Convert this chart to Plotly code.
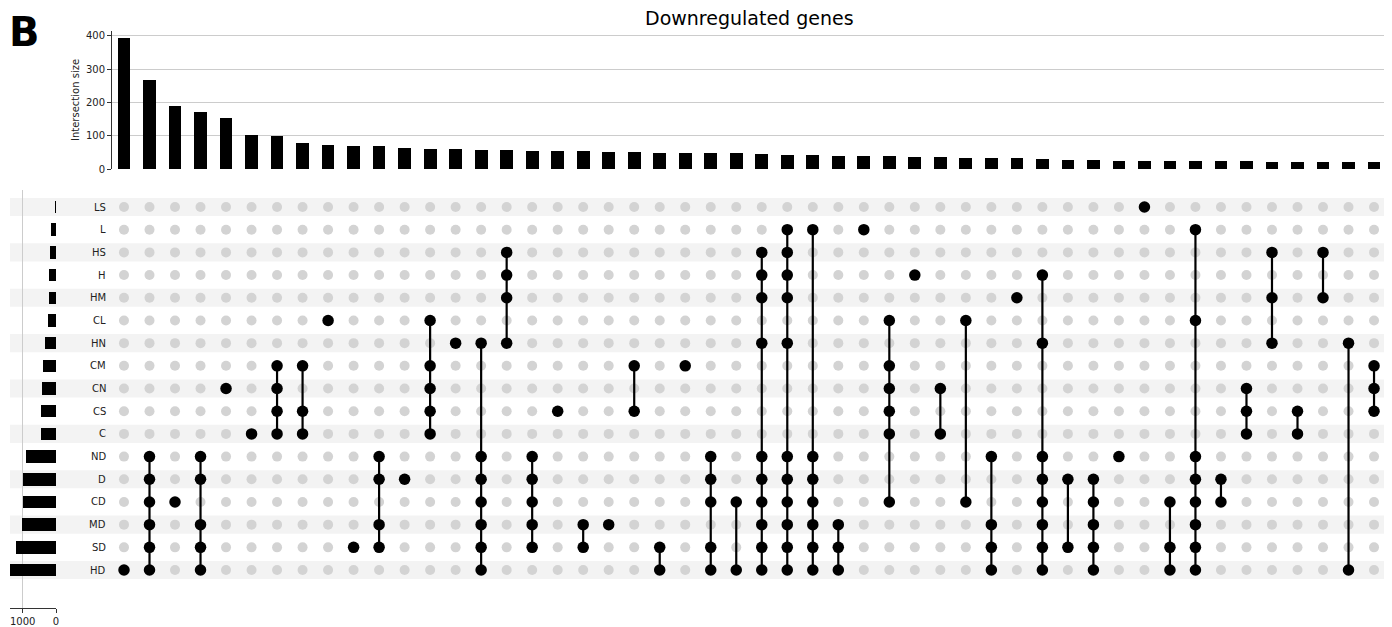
import plotly.graph_objects as go

# ---------------- data ----------------
sets = ["LS", "L", "HS", "H", "HM", "CL", "HN", "CM", "CN", "CS", "C",
        "ND", "D", "CD", "MD", "SD", "HD"]
set_sizes = [28, 147, 186, 216, 225, 230, 343, 392, 431, 451, 455,
             911, 980, 982, 1010, 1186, 1372]

intersection_members = [
    ["HD"],
    ["ND", "D", "CD", "MD", "SD", "HD"],
    ["CD"],
    ["ND", "D", "MD", "SD", "HD"],
    ["CN"],
    ["C"],
    ["CM", "CN", "CS", "C"],
    ["CM", "CS", "C"],
    ["CL"],
    ["SD"],
    ["ND", "D", "MD", "SD"],
    ["D"],
    ["CL", "CM", "CN", "CS", "C"],
    ["HN"],
    ["HN", "ND", "D", "CD", "MD", "SD", "HD"],
    ["HS", "H", "HM", "HN"],
    ["ND", "D", "CD", "MD", "SD"],
    ["CS"],
    ["MD", "SD"],
    ["MD"],
    ["CM", "CS"],
    ["SD", "HD"],
    ["CM"],
    ["ND", "D", "CD", "SD", "HD"],
    ["CD", "HD"],
    ["HS", "H", "HM", "HN", "ND", "D", "CD", "MD", "SD", "HD"],
    ["L", "HS", "H", "HM", "HN", "ND", "D", "CD", "MD", "SD", "HD"],
    ["L", "ND", "D", "CD", "MD", "SD", "HD"],
    ["MD", "SD", "HD"],
    ["L"],
    ["CL", "CM", "CN", "CS", "C", "CD"],
    ["H"],
    ["CN", "C"],
    ["CL", "CD"],
    ["ND", "MD", "SD", "HD"],
    ["HM"],
    ["H", "HN", "ND", "D", "CD", "MD", "SD", "HD"],
    ["D", "SD"],
    ["D", "CD", "MD", "SD", "HD"],
    ["ND"],
    ["LS"],
    ["CD", "SD", "HD"],
    ["L", "CL", "ND", "D", "CD", "MD", "SD", "HD"],
    ["D", "CD"],
    ["CN", "CS", "C"],
    ["HS", "HM", "HN"],
    ["CS", "C"],
    ["HS", "HM"],
    ["HN", "HD"],
    ["CM", "CN", "CS"],
]
intersection_sizes = [395, 269, 188, 171, 152, 102, 99, 78, 72, 70, 68, 62, 61, 61,
                      57, 56, 55, 54, 54, 52, 51, 49, 49, 49, 47, 45, 43, 41, 40, 40, 38, 36,
                      35, 34, 34, 34, 30, 28, 26, 25, 25, 25, 25, 24, 23, 22, 22, 22, 22, 22]

title_text = "Downregulated genes"
panel_label = "B"

# ---------------- geometry helpers ----------------
OFF = 8                      # page body margin of the html
W, H = 1392 - OFF, 627 - OFF
def px_x(p): return (p - OFF) / W
def px_y(p): return 1 - (p - OFF) / H

FONT = "DejaVu Sans"
n_cols = len(intersection_sizes)
cols = list(range(n_cols))
row_index = {s: i for i, s in enumerate(sets)}

fig = go.Figure()

# top bar chart
fig.add_trace(go.Bar(x=cols, y=intersection_sizes, width=0.5,
                     marker=dict(color="black", line=dict(width=0)),
                     xaxis="x", yaxis="y", showlegend=False, hoverinfo="x+y"))

# matrix: gray background dots
gx, gy = [], []
for c in cols:
    for r in range(len(sets)):
        gx.append(c); gy.append(r)
fig.add_trace(go.Scatter(x=gx, y=gy, mode="markers",
                         marker=dict(color="#d3d3d3", size=10),
                         xaxis="x2", yaxis="y2", showlegend=False, hoverinfo="skip"))

# connecting lines
lx, ly = [], []
for c, mem in enumerate(intersection_members):
    rows = [row_index[m] for m in mem]
    if len(rows) > 1:
        lx += [c, c, None]
        ly += [min(rows), max(rows), None]
fig.add_trace(go.Scatter(x=lx, y=ly, mode="lines",
                         line=dict(color="black", width=2.2),
                         xaxis="x2", yaxis="y2", showlegend=False, hoverinfo="skip"))

# black dots
bx, by = [], []
for c, mem in enumerate(intersection_members):
    for m in mem:
        bx.append(c); by.append(row_index[m])
fig.add_trace(go.Scatter(x=bx, y=by, mode="markers",
                         marker=dict(color="black", size=11.5),
                         xaxis="x2", yaxis="y2", showlegend=False, hoverinfo="skip"))

# set size bars
fig.add_trace(go.Bar(x=set_sizes, y=list(range(len(sets))), orientation="h", width=0.55,
                     marker=dict(color="black", line=dict(width=0)),
                     xaxis="x3", yaxis="y3", showlegend=False, hoverinfo="x"))

# stripes
shapes = []
for r in range(0, len(sets), 2):
    shapes.append(dict(type="rect", xref="paper", yref="y2",
                       x0=px_x(10), x1=px_x(1385), y0=r - 0.4, y1=r + 0.4,
                       fillcolor="#f3f3f3", line=dict(width=0), layer="below"))

annotations = []
for r, s in enumerate(sets):
    annotations.append(dict(text=s, xref="paper", yref="y2", x=px_x(108), y=r,
                            xanchor="right", yanchor="middle", showarrow=False,
                            font=dict(family=FONT, size=10, color="#222")))
annotations.append(dict(text="Intersection size", xref="paper", yref="paper",
                        x=px_x(75), y=px_y(100), textangle=-90, showarrow=False,
                        xanchor="center", yanchor="middle",
                        font=dict(family=FONT, size=10, color="#222")))
annotations.append(dict(text=title_text, xref="paper", yref="paper",
                        x=px_x(749), y=px_y(18), showarrow=False,
                        xanchor="center", yanchor="middle",
                        font=dict(family=FONT, size=19, color="black")))
annotations.append(dict(text="<b>" + panel_label + "</b>", xref="paper", yref="paper",
                        x=0.0, y=1.0, showarrow=False, borderpad=0,
                        xanchor="left", yanchor="top",
                        font=dict(family=FONT, size=40, color="black")))

xr = [-0.47, 49.43]
yr_m = [17.673, -0.749]

common_off = dict(automargin=False)

fig.update_layout(
    width=W, height=H, autosize=False,
    margin=dict(l=0, r=0, t=0, b=0, pad=0),
    paper_bgcolor="white", plot_bgcolor="rgba(0,0,0,0)",
    font=dict(family=FONT, size=10, color="#222"),
    bargap=0,
    shapes=shapes, annotations=annotations,
    xaxis=dict(domain=[px_x(112), px_x(1385)], range=xr, anchor="y",
               showticklabels=False, ticks="", showgrid=False, zeroline=False,
               showline=False, **common_off),
    yaxis=dict(domain=[px_y(169), px_y(31)], range=[0, 415], anchor="x",
               tickvals=[0, 100, 200, 300, 400], ticks="outside", ticklen=4,
               tickcolor="#333", showline=True, linecolor="#333", linewidth=1,
               showgrid=True, gridcolor="#cccccc", gridwidth=1, zeroline=False,
               tickfont=dict(family=FONT, size=10, color="#222"), **common_off),
    xaxis2=dict(domain=[px_x(112), px_x(1385)], range=xr, anchor="y2",
                showticklabels=False, ticks="", showgrid=False, zeroline=False,
                showline=False, **common_off),
    yaxis2=dict(domain=[px_y(608), px_y(190)], range=yr_m, anchor="x2",
                showticklabels=False, ticks="", showgrid=False, zeroline=False,
                showline=False, **common_off),
    xaxis3=dict(domain=[px_x(10), px_x(56)], range=[1380, 0], anchor="y3",
                tickvals=[0, 1000], ticktext=["0", "1000"], ticks="outside", ticklen=4,
                tickcolor="#333", showline=True, linecolor="#333", linewidth=1,
                showgrid=True, gridcolor="#cccccc", gridwidth=1, zeroline=False,
                tickfont=dict(family=FONT, size=10, color="#222"), **common_off),
    yaxis3=dict(domain=[px_y(608), px_y(190)], range=yr_m, anchor="x3",
                showticklabels=False, ticks="", showgrid=False, zeroline=False,
                showline=False, **common_off),
)

fig.write_html("out.html")
